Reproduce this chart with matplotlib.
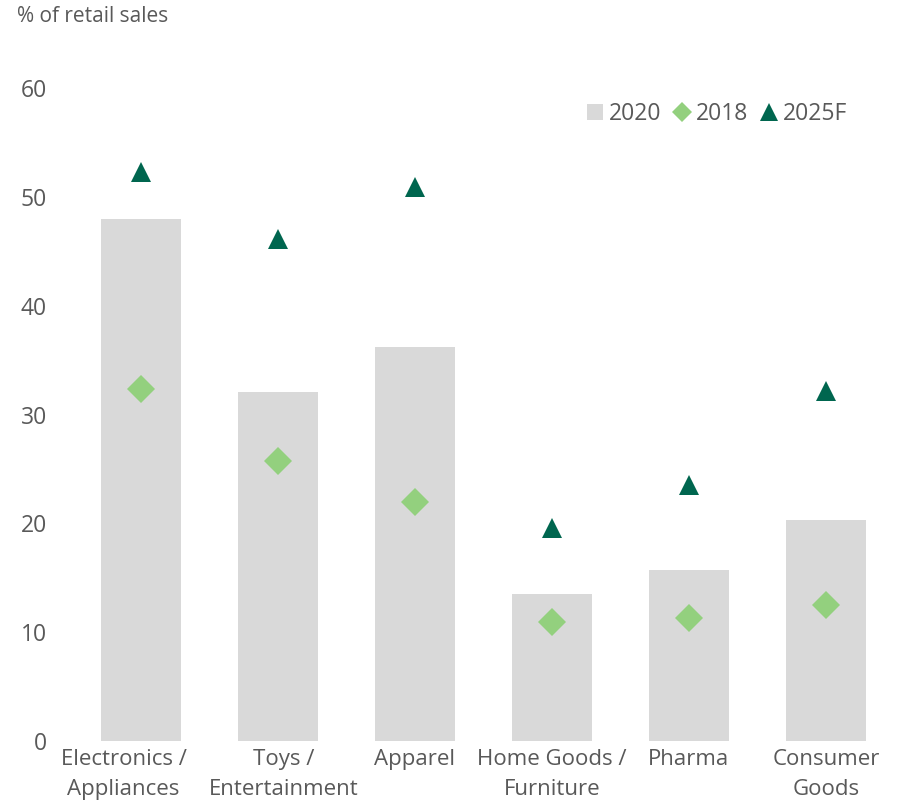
import matplotlib
matplotlib.use("Agg")
import matplotlib.pyplot as plt
from matplotlib.lines import Line2D
from matplotlib.patches import Patch
from matplotlib.transforms import ScaledTranslation
import numpy as np

plt.rcParams['font.family'] = ['Open Sans', 'DejaVu Sans']

categories = ["Electronics /\nAppliances", "Toys /\nEntertainment", "Apparel",
              "Home Goods /\nFurniture", "Pharma", "Consumer\nGoods"]
share_2020 = [48.0, 32.1, 36.2, 13.5, 15.7, 20.3]
share_2018 = [32.3, 25.7, 22.0, 10.9, 11.3, 12.5]
share_2025f = [52.3, 46.1, 50.9, 19.6, 23.5, 32.2]
yticks = [0, 10, 20, 30, 40, 50, 60]

text_color = "#595959"
bar_color = "#d9d9d9"
diamond_color = "#93d07e"
triangle_color = "#00664f"

fig = plt.figure(figsize=(9, 8.01), dpi=100)
ax = fig.add_axes([0.08, 0.075, 0.914, 0.815])

x = np.arange(len(categories))
ax.bar(x, share_2020, width=0.584, color=bar_color, zorder=1)
ax.plot(x, share_2018, linestyle="none", marker="D", markersize=14,
        color=diamond_color, markeredgewidth=0, zorder=3)
ax.plot(x, share_2025f, linestyle="none", marker="^", markersize=15,
        color=triangle_color, markeredgewidth=0, zorder=3)

ax.set_xlim(-0.5, len(categories) - 0.5)
ax.set_ylim(0, 60)
ax.set_yticks(yticks)
ax.set_yticklabels([str(t) for t in yticks])
ax.set_xticks(x)
ax.set_xticklabels(categories, linespacing=1.55)
ax.tick_params(axis="y", length=0, pad=18, labelsize=16.5, labelcolor=text_color)
ax.tick_params(axis="x", length=0, pad=6, labelsize=16, labelcolor=text_color)
for lbl in ax.get_yticklabels():
    lbl.set_horizontalalignment("right")
for s in ax.spines.values():
    s.set_visible(False)

# nudge the two crowded left labels apart
xlabels = ax.get_xticklabels()
xlabels[0].set_transform(xlabels[0].get_transform()
                         + ScaledTranslation(-0.17, 0, fig.dpi_scale_trans))
xlabels[1].set_transform(xlabels[1].get_transform()
                         + ScaledTranslation(0.06, 0, fig.dpi_scale_trans))

fig.text(0.019, 0.979, "% of retail sales", fontsize=15, color=text_color,
         ha="left", va="center")

handles = [
    Patch(facecolor=bar_color, edgecolor="none", label="2020"),
    Line2D([], [], linestyle="none", marker="D", markersize=10,
           color=diamond_color, markeredgewidth=0, label="2018"),
    Line2D([], [], linestyle="none", marker="^", markersize=13,
           color=triangle_color, markeredgewidth=0, label="2025F"),
]
leg = ax.legend(handles=handles, ncol=3, loc="center right",
                bbox_to_anchor=(0.953, 0.961), frameon=False, fontsize=16.5,
                handlelength=0.7, handleheight=0.7, handletextpad=0.25,
                columnspacing=0.55, borderaxespad=0)
for t in leg.get_texts():
    t.set_color(text_color)

fig.savefig("out.png", dpi=100)
